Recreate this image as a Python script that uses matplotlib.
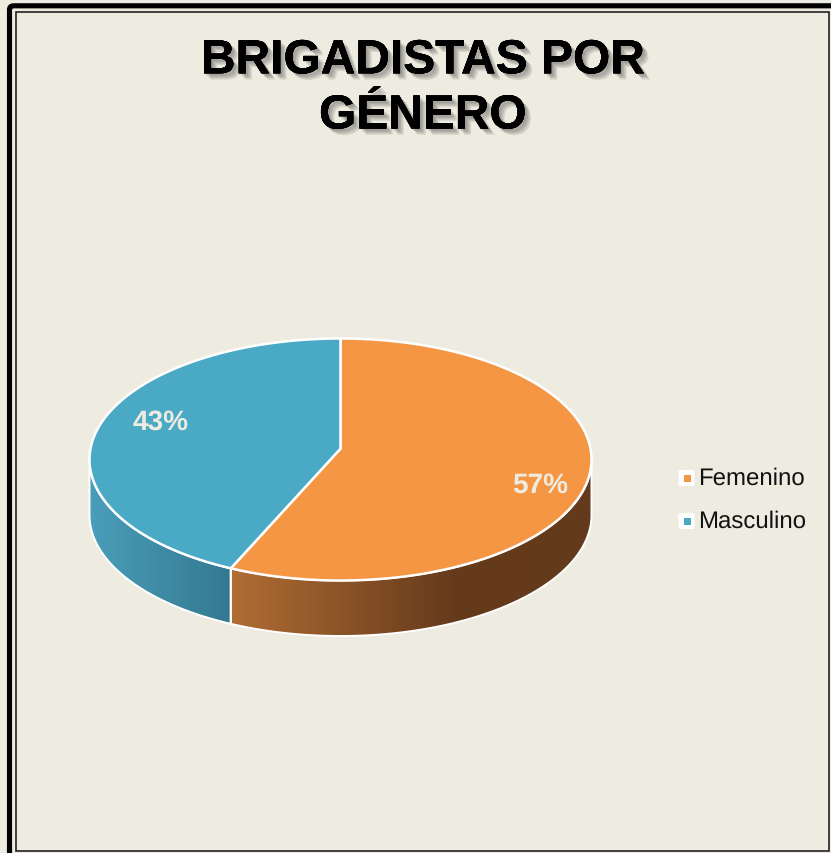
import numpy as np
import matplotlib
matplotlib.use("Agg")
import matplotlib.pyplot as plt
import matplotlib.patheffects as pe
from matplotlib.patches import Polygon, Rectangle, FancyBboxPatch
from matplotlib.colors import LinearSegmentedColormap

categories = ["Femenino", "Masculino"]
values = [57.2, 42.8]
labels = ["57%", "43%"]
title = "BRIGADISTAS POR\nGÉNERO"
colors = ["#F59645", "#4AA9C5"]

W, H = 831, 854
BG = "#EEEBE0"
plt.rcParams["font.family"] = ["Liberation Sans", "DejaVu Sans"]
plt.rcParams["text.hinting"] = "none"
plt.rcParams["text.hinting_factor"] = 1

fig = plt.figure(figsize=(W / 100, H / 100), dpi=100, facecolor=BG)

# capa en pixeles para el marco, titulo y leyenda
bg = fig.add_axes([0, 0, 1, 1])
bg.set_xlim(0, W)
bg.set_ylim(H, 0)
bg.axis("off")

bg.add_patch(FancyBboxPatch((9.5, 6.8), W + 30, H + 30, boxstyle="round,pad=0,rounding_size=4",
                            fc="none", ec="#000000", lw=3.7))
bg.add_patch(Rectangle((15.8, 13), 813, 838.5, fc="none", ec="#222222", lw=1.2))

# ejes de la torta, con margen para la pared lateral
cx, cy, rx, ry, depth = 340.5, 460.5, 251, 121, 55.5
d = depth / ry
pad = 0.02
ax = fig.add_axes([(cx - rx * (1 + pad)) / W, 1 - (cy + ry * (1 + d + pad)) / H,
                   2 * rx * (1 + pad) / W, ry * (2 + d + 2 * pad) / H])
ax.set_xlim(-1 - pad, 1 + pad)
ax.set_ylim(-1 - d - pad, 1 + pad)
ax.axis("off")
bg.set_zorder(0)
ax.set_zorder(1)

fracs = np.array(values) / sum(values)
edges = np.pi / 2 - 2 * np.pi * np.concatenate([[0], np.cumsum(fracs)])
# el vertice queda mas arriba que el centro de la elipse por la perspectiva
apex = (0, 0.09)

wall_cmaps = [
    LinearSegmentedColormap.from_list("b", [(0, "#B06D34"), (0.62, "#653A1B"), (1, "#633A1B")]),
    LinearSegmentedColormap.from_list("a", [(0, "#4A9EBA"), (1, "#347890")]),
]
wall_range = [(np.cos(edges[1]), 1.0), (-1.0, np.cos(edges[1]))]
grad = np.linspace(0, 1, 256).reshape(1, -1)
for i in range(len(values)):
    t = np.linspace(edges[i], edges[i + 1], 400)
    # pared lateral: parte de abajo de cada sector
    tw = t[np.sin(t) <= 0]
    top = np.c_[np.cos(tw), np.sin(tw)]
    bottom = top[::-1] - [0, d]
    wall = Polygon(np.vstack([top, bottom]), closed=True, fc="none", ec="white", lw=1.4, zorder=4)
    ax.add_patch(wall)
    x0, x1 = wall_range[i]
    im = ax.imshow(grad, extent=(x0, x1, -1 - d, 0), cmap=wall_cmaps[i], aspect="auto", zorder=3)
    im.set_clip_path(wall)
    # cara superior
    ax.add_patch(Polygon(np.vstack([[apex], np.c_[np.cos(t), np.sin(t)]]), closed=True, fc=colors[i],
                         ec="white", lw=1.8, zorder=5, joinstyle="round"))
ax.set_xlim(-1 - pad, 1 + pad)
ax.set_ylim(-1 - d - pad, 1 + pad)
ax.set_aspect("auto")

# etiquetas de porcentaje
lab_pos = [(540.5, 485), (160.5, 422)]
for (lx, ly), s in zip(lab_pos, labels):
    ax.annotate(s, xy=(lx, H - ly), xycoords="figure pixels", ha="center", va="center",
                fontsize=20, fontweight="bold", color="#EEEBE0", zorder=10)

# titulo con sombra difusa
shadow = [pe.withSimplePatchShadow(offset=(o, -o), shadow_rgbFace="#444444", alpha=0.14)
          for o in (1.5, 2.5, 3.5, 4.5)]
tt = bg.text(423, 89.5, title, ha="center", va="center", fontsize=34.5, fontweight="bold",
             color="black", linespacing=1.3)
tt.set_path_effects(shadow + [pe.Normal()])

# leyenda
leg_y = [479, 522]
for y, c, name in zip(leg_y, colors, categories):
    bg.add_patch(FancyBboxPatch((678.5, y - 8), 16, 16, boxstyle="round,pad=0,rounding_size=2",
                                fc="white", ec="none"))
    bg.add_patch(Rectangle((684, y - 3.5), 7, 7, fc=c, ec="none"))
    bg.text(698.5, y, name, ha="left", va="center", fontsize=17, color="#111111")

fig.savefig("out.png", dpi=100, facecolor=BG)
